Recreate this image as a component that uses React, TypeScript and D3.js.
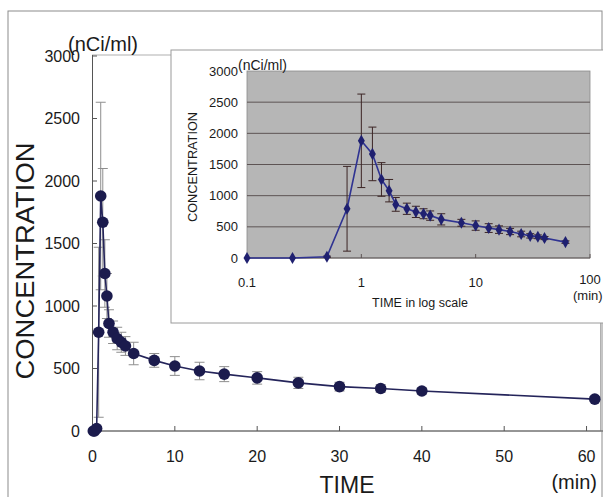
import React from 'react';
import * as d3 from 'd3';

// sampling times (min), mean concentration (nCi/ml) and error (SD)
const times = [0.1, 0.25, 0.5, 0.75, 1, 1.25, 1.5, 1.75, 2, 2.5, 3, 3.5, 4, 5, 7.5, 10, 13, 16, 20, 25, 30, 35, 40, 61];
const conc = [0, 0, 20, 790, 1880, 1670, 1260, 1080, 860, 790, 740, 710, 680, 620, 565, 520, 480, 455, 425, 385, 355, 340, 320, 255];
const errs = [0, 0, 10, 680, 750, 430, 270, 180, 110, 90, 90, 80, 75, 90, 55, 75, 70, 60, 50, 45, 35, 30, 25, 20];

const mainYTicks = [0, 500, 1000, 1500, 2000, 2500, 3000];
const mainXTicks = [0, 10, 20, 30, 40, 50, 60];
const insetXTicks = [0.1, 1, 10, 100];
const insetXLabels = ['0.1', '1', '10', '100'];

const font = 'Arial, "Liberation Sans", sans-serif';

const W = 603;
const H = 497;

const App = () => {
  const pts = times.map((t, i) => ({ t, c: conc[i], e: errs[i] }));

  // main chart, linear time
  const x = d3.scaleLinear().domain([0, 62]).range([92.5, 603]);
  const y = d3.scaleLinear().domain([0, 3000]).range([431, 56]);
  const line = d3.line<any>().x((d) => x(d.t)).y((d) => y(d.c));

  // inset, log time
  const ix = d3.scaleLog().domain([0.1, 100]).range([247, 590]);
  const iy = d3.scaleLinear().domain([0, 3000]).range([258, 71]);
  const iline = d3.line<any>().x((d) => ix(d.t)).y((d) => iy(d.c));
  const diamond = d3.symbol().type(d3.symbolDiamond).size(42)();

  return (
    <svg width={W} height={H} style={{ position: 'absolute', left: 0, top: 0, background: '#fff' }} fontFamily={font}>
      {/* outer frame */}
      <rect x={8} y={11} width={594} height={520} fill="none" stroke="#8c8c8c" strokeWidth={1} />

      {/* main plot box */}
      <rect x={92.5} y={55} width={508} height={376} fill="none" stroke="#b0b0b0" strokeWidth={1} />
      <line x1={92.5} x2={92.5} y1={55} y2={431} stroke="#555" />
      <line x1={92.5} x2={603} y1={431} y2={431} stroke="#555" />
      {mainYTicks.map((v) => (
        <g key={v}>
          <line x1={92.5} x2={97} y1={y(v)} y2={y(v)} stroke="#555" />
          <text x={80} y={y(v)} dy="0.35em" textAnchor="end" fontSize={16} fill="#1a1a1a">{v}</text>
        </g>
      ))}
      {mainXTicks.map((v) => (
        <g key={v}>
          <line x1={x(v)} x2={x(v)} y1={431} y2={426} stroke="#555" />
          <text x={x(v)} y={456} dy="0.35em" textAnchor="middle" fontSize={16} fill="#1a1a1a">{v}</text>
        </g>
      ))}
      <text x={68} y={51} fontSize={20} fill="#1a1a1a">(nCi/ml)</text>
      <text transform={`translate(34, ${261}) rotate(-90)`} textAnchor="middle" fontSize={25} fill="#1a1a1a"
        textLength={237} lengthAdjust="spacingAndGlyphs">CONCENTRATION</text>
      <text x={347} y={493} textAnchor="middle" fontSize={24} fill="#1a1a1a" textLength={55} lengthAdjust="spacingAndGlyphs">TIME</text>
      <text x={597} y={489} textAnchor="end" fontSize={20} fill="#1a1a1a">(min)</text>

      {/* main error bars */}
      {pts.filter((d) => d.e > 0).map((d, i) => (
        <g key={i} stroke="#8e8e8e" strokeWidth={1}>
          <line x1={x(d.t)} x2={x(d.t)} y1={y(d.c + d.e)} y2={y(Math.max(0, d.c - d.e))} />
          <line x1={x(d.t) - 5} x2={x(d.t) + 5} y1={y(d.c + d.e)} y2={y(d.c + d.e)} />
          <line x1={x(d.t) - 5} x2={x(d.t) + 5} y1={y(Math.max(0, d.c - d.e))} y2={y(Math.max(0, d.c - d.e))} />
        </g>
      ))}
      <path d={line(pts) || ''} fill="none" stroke="#24245a" strokeWidth={1.6} />
      {pts.map((d, i) => (
        <circle key={i} cx={x(d.t)} cy={y(d.c)} r={5.8} fill="#1b1b4d" />
      ))}

      {/* inset */}
      <rect x={171} y={50} width={440} height={273} fill="#fff" stroke="#9a9a9a" strokeWidth={1} />
      <rect x={247} y={71} width={343} height={187} fill="#b6b6b6" stroke="#8a8a8a" strokeWidth={0.8} />
      {mainYTicks.map((v) => (
        <g key={v}>
          {v > 0 && v < 3000 && <line x1={247} x2={590} y1={iy(v)} y2={iy(v)} stroke="#5d5454" strokeWidth={1} />}
          <text x={238} y={iy(v)} dy="0.35em" textAnchor="end" fontSize={13} fill="#1a1a1a">{v}</text>
        </g>
      ))}
      <line x1={247} x2={590} y1={258} y2={258} stroke="#5d5454" />
      {insetXTicks.map((v, i) => (
        <g key={v}>
          <line x1={ix(v)} x2={ix(v)} y1={258} y2={254} stroke="#5d5454" />
          <text x={ix(v)} y={v === 100 ? 279 : 282} dy="0.35em" textAnchor="middle" fontSize={13} fill="#1a1a1a">{insetXLabels[i]}</text>
        </g>
      ))}
      <text x={238} y={70} fontSize={14} fill="#1a1a1a">(nCi/ml)</text>
      <text x={573} y={300} fontSize={13} fill="#1a1a1a">(min)</text>
      <text x={420} y={307} textAnchor="middle" fontSize={12.5} fill="#1a1a1a">TIME in log scale</text>
      <text transform={`translate(197, 167) rotate(-90)`} textAnchor="middle" fontSize={12} fill="#1a1a1a"
        textLength={110} lengthAdjust="spacingAndGlyphs">CONCENTRATION</text>

      {pts.filter((d) => d.e > 0).map((d, i) => (
        <g key={i} stroke="#3b2424" strokeWidth={1}>
          <line x1={ix(d.t)} x2={ix(d.t)} y1={iy(d.c + d.e)} y2={iy(Math.max(0, d.c - d.e))} />
          <line x1={ix(d.t) - 4} x2={ix(d.t) + 4} y1={iy(d.c + d.e)} y2={iy(d.c + d.e)} />
          <line x1={ix(d.t) - 4} x2={ix(d.t) + 4} y1={iy(Math.max(0, d.c - d.e))} y2={iy(Math.max(0, d.c - d.e))} />
        </g>
      ))}
      <path d={iline(pts) || ''} fill="none" stroke="#2f3392" strokeWidth={1.6} />
      {pts.map((d, i) => (
        <path key={i} d={diamond || ''} transform={`translate(${ix(d.t)}, ${iy(d.c)})`} fill="#1f2070" />
      ))}
    </svg>
  );
};

export default App;
